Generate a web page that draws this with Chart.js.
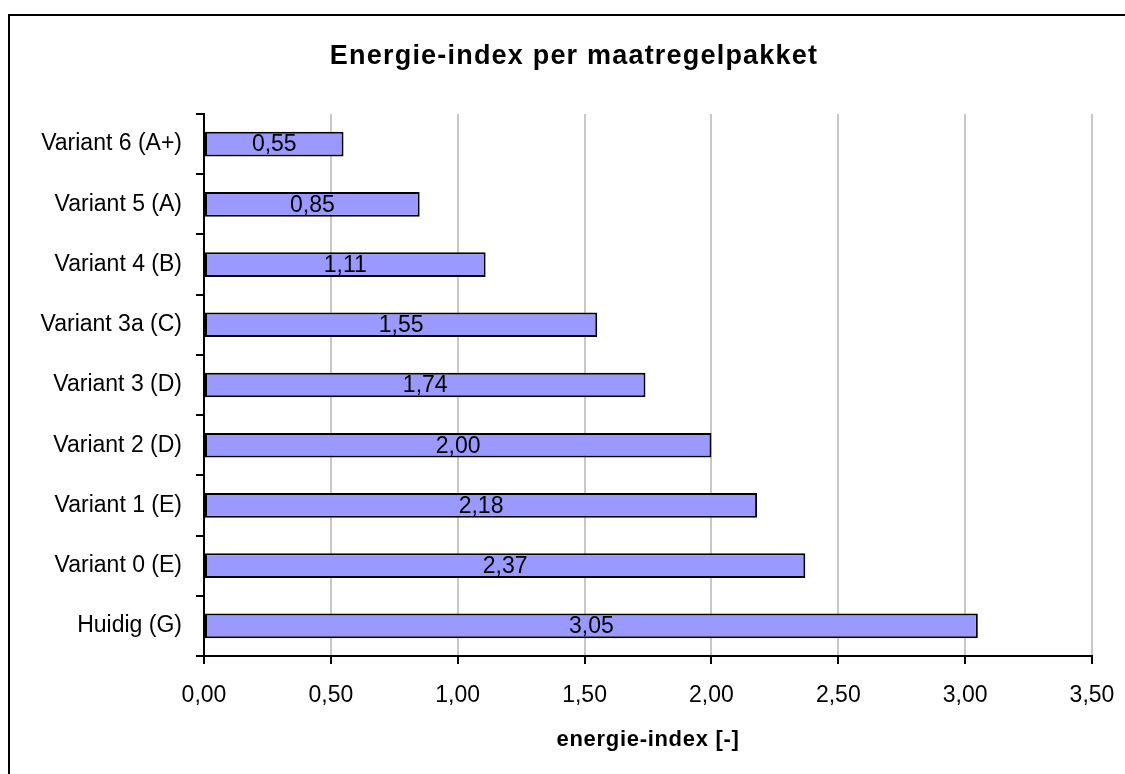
<!DOCTYPE html>
<html>
<head>
<meta charset="utf-8">
<title>Energie-index per maatregelpakket</title>
<script src="https://cdn.jsdelivr.net/npm/chart.js@4/dist/chart.umd.min.js"></script>
<style>
	body { margin: 0; background: #fff; }
	#mycanvas { display: block; }
</style>
</head>
<body>
<canvas id="mycanvas" width="1125" height="774"></canvas>
<script>
var varianten = ["Variant 6 (A+)", "Variant 5 (A)", "Variant 4 (B)", "Variant 3a (C)", "Variant 3 (D)", "Variant 2 (D)", "Variant 1 (E)", "Variant 0 (E)", "Huidig (G)"];
var energieIndex = [0.55, 0.85, 1.11, 1.55, 1.74, 2.00, 2.18, 2.37, 3.05];
var titel = "Energie-index per maatregelpakket";
var asTitel = "energie-index [-]";

function komma(v) {
	return Number(v).toFixed(2).replace(".", ",");
}

// frame, titles and the value labels inside the bars
var extras = {
	id: "extras",
	beforeDraw: function(chart) {
		var ctx = chart.ctx;
		ctx.save();
		ctx.fillStyle = "#fff";
		ctx.fillRect(0, 0, chart.width, chart.height);
		ctx.strokeStyle = "#000";
		ctx.lineWidth = 2;
		ctx.strokeRect(9, 15, 1300, 1000);
		ctx.restore();
	},
	afterDraw: function(chart) {
		var ctx = chart.ctx;
		var area = chart.chartArea;
		ctx.save();
		ctx.fillStyle = "#000";
		ctx.textAlign = "center";
		ctx.textBaseline = "middle";

		ctx.font = "bold 27px 'Liberation Sans', Arial, sans-serif";
		ctx.letterSpacing = "1.2px";
		ctx.fillText(titel, 574, 57);

		ctx.font = "bold 22px 'Liberation Sans', Arial, sans-serif";
		ctx.letterSpacing = "0.7px";
		ctx.fillText(asTitel, (area.left + area.right) / 2, 740);

		ctx.letterSpacing = "0px";
		ctx.font = "23px 'Liberation Sans', Arial, sans-serif";
		var meta = chart.getDatasetMeta(0);
		meta.data.forEach(function(bar, i) {
			var x = (bar.base + bar.x) / 2;
			ctx.fillText(komma(energieIndex[i]), x, bar.y + 1);
		});
		ctx.restore();
	}
};

var chartdata = {
	labels: varianten,
	datasets: [
		{
			label: "energie-index",
			data: energieIndex,
			backgroundColor: "#9999ff",
			borderColor: "#000",
			borderWidth: 2,
			borderSkipped: false,
			categoryPercentage: 1,
			barPercentage: 0.41
		}
	]
};

var ctx = document.getElementById("mycanvas");

var balkGrafiek = new Chart(ctx, {
	type: "bar",
	data: chartdata,
	plugins: [extras],
	options: {
		indexAxis: "y",
		responsive: false,
		animation: false,
		layout: {
			padding: { top: 114, right: 33, left: 0, bottom: 0 }
		},
		plugins: {
			legend: { display: false },
			tooltip: { enabled: false }
		},
		scales: {
			x: {
				min: 0,
				max: 3.5,
				border: { color: "#000", width: 2 },
				grid: {
					color: function(c) { return c.index === 0 ? "rgba(0,0,0,0)" : "#c8c8c8"; },
					lineWidth: 2,
					tickColor: "#000",
					tickLength: 8
				},
				ticks: {
					stepSize: 0.5,
					color: "#000",
					padding: 18,
					font: { family: "'Liberation Sans', Arial, sans-serif", size: 23 },
					callback: function(v) { return komma(v); }
				},
				afterFit: function(scale) {
					scale.height = 118;
					scale.paddingLeft = 0;
					scale.paddingRight = 0;
				}
			},
			y: {
				offset: true,
				border: { color: "#000", width: 2 },
				grid: {
					offset: true,
					drawOnChartArea: false,
					tickColor: "#000",
					tickLength: 8,
					lineWidth: 2
				},
				ticks: {
					color: "#000",
					padding: 14,
					font: { family: "'Liberation Sans', Arial, sans-serif", size: 23 }
				},
				afterFit: function(scale) { scale.width = 204; }
			}
		}
	}
});
</script>
</body>
</html>
